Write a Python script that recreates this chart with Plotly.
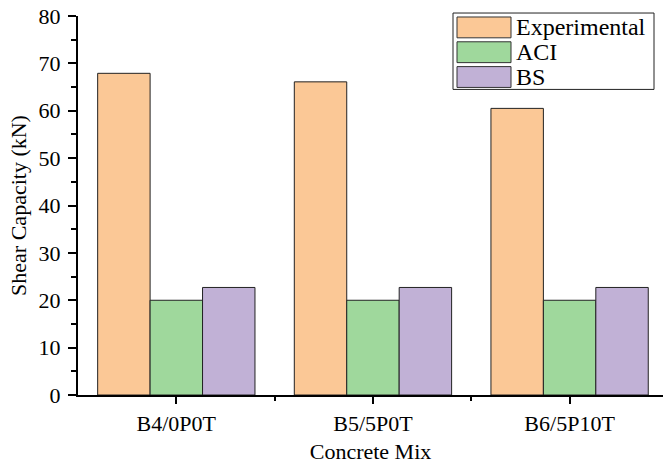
import plotly.graph_objects as go

# Shear capacity of the beams per concrete mix
mixes = ["B4/0P0T", "B5/5P0T", "B6/5P10T"]
series_names = ["Experimental", "ACI", "BS"]
experimental = [67.9, 66.1, 60.5]
aci = [20.0, 20.0, 20.0]
bs = [22.7, 22.7, 22.7]
y_ticks = [0, 10, 20, 30, 40, 50, 60, 70, 80]

colors = ["#FBC896", "#9FD89C", "#C1B1D6"]
FONT = "Liberation Serif, Times New Roman, serif"

W, H = 663, 464
L, R, T, B = 78, 0, 16, 66
plot_w = W - L - R
plot_h = H - T - B


def px(x):
    return (x - L) / plot_w


def py(y):
    return (H - B - y) / plot_h


positions = list(range(len(mixes)))
fig = go.Figure()
for name, vals, col in zip(series_names, [experimental, aci, bs], colors):
    fig.add_trace(go.Bar(
        x=positions, y=vals, name=name, showlegend=False,
        marker=dict(color=col, line=dict(color="#222222", width=1)),
    ))

# Legend drawn as a boxed key with wide swatches
shapes = [dict(type="rect", xref="paper", yref="paper",
               x0=px(453), x1=px(654), y0=py(90), y1=py(13),
               line=dict(color="#222222", width=1), fillcolor="white")]
annotations = []
row_tops = [17, 42, 67]
for name, col, top in zip(series_names, colors, row_tops):
    shapes.append(dict(type="rect", xref="paper", yref="paper",
                       x0=px(457), x1=px(511), y0=py(top + 21), y1=py(top),
                       line=dict(color="#333333", width=1), fillcolor=col))
    annotations.append(dict(xref="paper", yref="paper", x=px(514), y=py(top + 10.5),
                            text=name, showarrow=False, xanchor="left", yanchor="middle",
                            font=dict(family=FONT, size=24, color="black")))

fig.update_layout(
    width=W, height=H,
    margin=dict(l=L, r=R, t=T, b=B),
    paper_bgcolor="white", plot_bgcolor="white",
    barmode="group", bargap=0.2, bargroupgap=0,
    font=dict(family=FONT, size=22, color="black"),
    shapes=shapes, annotations=annotations,
)
fig.update_xaxes(
    range=[-0.5, 2.475],
    tickvals=positions, ticktext=mixes,
    ticks="outside", ticklen=7, tickwidth=1.5, tickcolor="black",
    minor=dict(tickvals=[0.5, 1.5], ticks="outside", ticklen=4, tickwidth=1.5, tickcolor="black"),
    showline=True, linecolor="black", linewidth=2,
    showgrid=False, zeroline=False,
    tickfont=dict(family=FONT, size=22),
    ticklabelstandoff=1,
    title=dict(text="Concrete Mix", font=dict(family=FONT, size=22), standoff=12),
)
fig.update_yaxes(
    range=[0, 80],
    tickvals=y_ticks,
    ticks="outside", ticklen=8, tickwidth=1.5, tickcolor="black",
    minor=dict(dtick=5, ticks="outside", ticklen=5, tickwidth=1.5, tickcolor="black"),
    showline=True, linecolor="black", linewidth=2,
    showgrid=False, zeroline=False,
    tickfont=dict(family=FONT, size=22),
    ticklabelstandoff=3,
    title=dict(text="Shear Capacity (kN)", font=dict(family=FONT, size=22), standoff=6),
)

fig.write_html("out.html")
